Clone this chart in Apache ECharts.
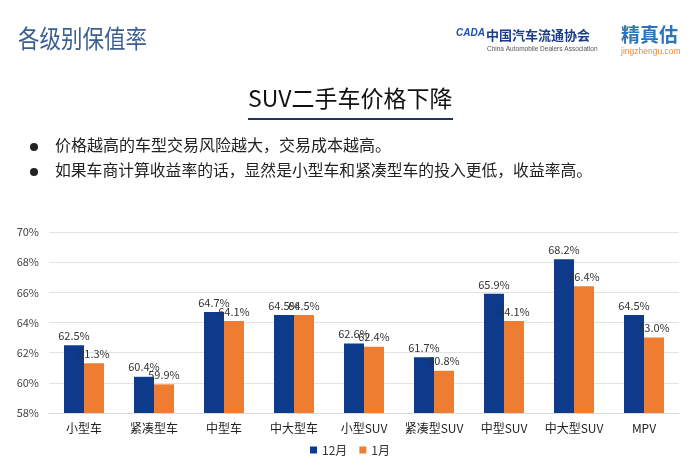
<!DOCTYPE html>
<html><head><meta charset="utf-8">
<script src="https://cdn.jsdelivr.net/npm/echarts@6/dist/echarts.min.js"></script>
<style>html,body{margin:0;padding:0;background:#fff}#c{width:700px;height:467px}</style>
</head><body><div id="c"></div>
<script>
const categories = ['小型车','紧凑型车','中型车','中大型车','小型SUV','紧凑型SUV','中型SUV','中大型SUV','MPV'];
const dec = [62.5,60.4,64.7,64.5,62.6,61.7,65.9,68.2,64.5];
const jan = [61.3,59.9,64.1,64.5,62.4,60.8,64.1,66.4,63.0];
const seriesNames = ['12月','1月'];
const yTicks = {min:58,max:70,interval:2};

const chart = echarts.init(document.getElementById('c'));
const cjk = '"Noto Sans CJK SC", sans-serif';
const lbl = {show:true,position:'top',distance:4,fontSize:11,color:'#333',fontFamily:cjk,
  formatter:p=>p.value.toFixed(1)+'%'};
chart.setOption({
  animation:false,
  backgroundColor:'#fff',
  textStyle:{fontFamily:cjk},
  grid:{left:49,right:21,top:232,bottom:54,containLabel:false},
  legend:{bottom:6,left:'center',itemWidth:7,itemHeight:7,itemGap:12,icon:'rect',
    textStyle:{fontSize:12,color:'#333'},data:seriesNames},
  xAxis:{type:'category',data:categories,
    axisLine:{lineStyle:{color:'#d9d9d9'}},axisTick:{show:false},
    axisLabel:{fontSize:12,color:'#222',margin:9,interval:0}},
  yAxis:{type:'value',min:yTicks.min,max:yTicks.max,interval:yTicks.interval,
    axisLabel:{formatter:'{value}%',fontSize:11,color:'#444',margin:10},
    axisLine:{show:false},axisTick:{show:false},
    splitLine:{lineStyle:{color:'#e3e3e3'}}},
  series:[
    {name:seriesNames[0],type:'bar',data:dec,barWidth:20,barGap:'0%',itemStyle:{color:'#0d3a8b'},label:lbl},
    {name:seriesNames[1],type:'bar',data:jan,barWidth:20,itemStyle:{color:'#ee7d31'},label:lbl}
  ],
  graphic:[
    {type:'text',x:18,y:26,scaleX:0.86,style:{text:'各级别保值率',fontSize:25,fill:'#3d5f8f',fontFamily:cjk}},
    {type:'text',left:456,top:28,style:{text:'CADA',fontSize:10,fontStyle:'italic',fontWeight:'bold',fill:'#1d4fa0',fontFamily:'sans-serif'}},
    {type:'text',left:486,top:29,style:{text:'中国汽车流通协会',fontSize:13,fontWeight:'bold',fill:'#1b3c87',fontFamily:cjk}},
    {type:'text',left:487,top:46,style:{text:'China Automobile Dealers Association',fontSize:6.5,fill:'#555',fontFamily:'Liberation Sans'}},
    {type:'text',left:621,top:25,style:{text:'精真估',fontSize:19,fontWeight:'bold',fill:'#2f74b9',fontFamily:cjk}},
    {type:'text',left:621,top:47,style:{text:'jingzhengu.com',fontSize:8.5,fill:'#ea8a3b',fontFamily:'Liberation Sans'}},
    {type:'text',x:248,y:87,style:{text:'SUV二手车价格下降',fontSize:23,fill:'#111',fontFamily:cjk}},
    {type:'rect',shape:{x:248,y:118,width:205,height:2},style:{fill:'#1f3560'}},
    {type:'circle',shape:{cx:34,cy:147,r:4},style:{fill:'#222'}},
    {type:'circle',shape:{cx:34,cy:172,r:4},style:{fill:'#222'}},
    {type:'text',x:55,y:137,style:{text:'价格越高的车型交易风险越大，交易成本越高。',fontSize:16,fill:'#222',fontFamily:cjk}},
    {type:'text',x:55,y:162,style:{text:'如果车商计算收益率的话，显然是小型车和紧凑型车的投入更低，收益率高。',fontSize:15.8,fill:'#222',fontFamily:cjk}}
  ]
});
</script></body></html>
